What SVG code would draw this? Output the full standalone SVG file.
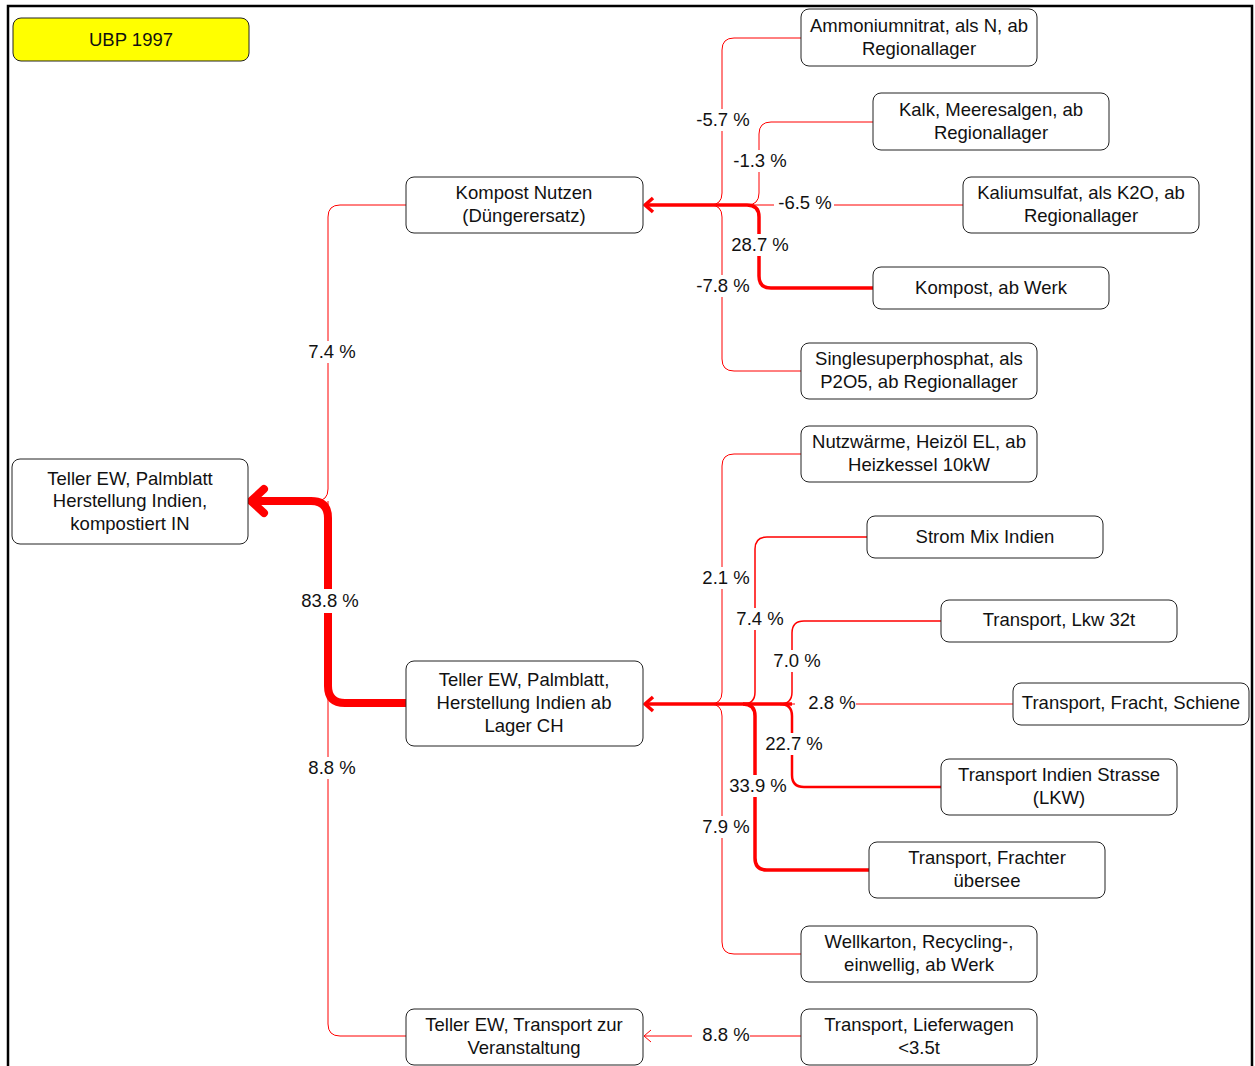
<svg xmlns="http://www.w3.org/2000/svg" width="1255" height="1066" viewBox="0 0 1255 1066">
  <style>
    .frame { fill: none; stroke: #000; stroke-width: 2.5; }
    .node rect { fill: #fff; stroke: #222; stroke-width: 1; }
    .node.title rect { fill: #ffff00; }
    text { font-family: "Liberation Sans", Arial, sans-serif; font-size: 18.5px; fill: #111; text-anchor: middle; dominant-baseline: central; transform: translateY(-1px); }
    .flow { fill: none; stroke: #ff0000; stroke-linecap: butt; stroke-linejoin: round; }
    .w1 { stroke-width: 1; }
    .w15 { stroke-width: 1.5; }
    .w25 { stroke-width: 2.5; }
    .w3 { stroke-width: 3.5; }
    .w8 { stroke-width: 8; stroke-linecap: round; }
    .lbl rect { fill: #fff; }
  </style>

  <!-- outer frame, open at the bottom -->
  <path class="frame" d="M8,1066 V6 H1252 V1066"/>

  <!-- connectors -->
  <g id="connectors">
    <!-- inputs to Kompost Nutzen -->
    <path class="flow w1" d="M801,38 H734 Q722,38 722,50 V193 Q722,205 710,205"/>
    <path class="flow w1" d="M801,371 H734 Q722,371 722,359 V217 Q722,205 710,205"/>
    <path class="flow w1" d="M873,122 H771 Q759,122 759,134 V193 Q759,205 747,205"/>
    <path class="flow w1" d="M963,205 H700"/>
    <path class="flow w3" d="M873,288 H771 Q759,288 759,276 V217 Q759,205 747,205 H646"/>
    <path class="flow w3" d="M653,198 L645,205 L653,212"/>

    <!-- inputs to Teller EW ab Lager CH -->
    <path class="flow w1" d="M801,454 H734 Q722,454 722,466 V692 Q722,704 710,704"/>
    <path class="flow w1" d="M801,954 H734 Q722,954 722,942 V716 Q722,704 710,704"/>
    <path class="flow w15" d="M867,537 H767 Q755,537 755,549 V692 Q755,704 743,704"/>
    <path class="flow w15" d="M941,621 H804 Q792,621 792,633 V692 Q792,704 780,704"/>
    <path class="flow w1" d="M1013,704 H780"/>
    <path class="flow w25" d="M941,787 H804 Q792,787 792,775 V716 Q792,704 780,704"/>
    <path class="flow w3" d="M869,870 H767 Q755,870 755,858 V716 Q755,704 743,704"/>
    <path class="flow w3" d="M792,704 H646"/>
    <path class="flow w3" d="M653,697 L645,704 L653,711"/>

    <!-- inputs to the main product -->
    <path class="flow w8" d="M409,703 H345 Q328,703 328,686 V518 Q328,501 311,501 H252"/>
    <path class="flow w8" d="M264,489 L251,501 L264,513"/>
    <path class="flow w1" d="M406,205 H340 Q328,205 328,217 V489 Q328,501 316,501"/>
    <path class="flow w1" d="M406,1036 H340 Q328,1036 328,1024 V501"/>

    <!-- input to Transport zur Veranstaltung -->
    <path class="flow w1" d="M801,1036 H644"/>
    <path class="flow w1" d="M651,1030 L644,1036 L651,1042"/>
  </g>

  <!-- flow labels -->
  <g id="labels">
    <g class="lbl"><rect x="693" y="109" width="60" height="22"/><text x="723" y="120">-5.7 %</text></g>
    <g class="lbl"><rect x="730" y="150" width="60" height="22"/><text x="760" y="161">-1.3 %</text></g>
    <g class="lbl"><rect x="774" y="192" width="60" height="22"/><text x="805" y="203">-6.5 %</text></g>
    <g class="lbl"><rect x="729" y="234" width="62" height="22"/><text x="760" y="245">28.7 %</text></g>
    <g class="lbl"><rect x="693" y="275" width="60" height="22"/><text x="723" y="286">-7.8 %</text></g>

    <g class="lbl"><rect x="700" y="567" width="52" height="22"/><text x="726" y="578">2.1 %</text></g>
    <g class="lbl"><rect x="734" y="608" width="52" height="22"/><text x="760" y="619">7.4 %</text></g>
    <g class="lbl"><rect x="771" y="650" width="52" height="22"/><text x="797" y="661">7.0 %</text></g>
    <g class="lbl"><rect x="795" y="692" width="61" height="22"/><text x="832" y="703">2.8 %</text></g>
    <g class="lbl"><rect x="763" y="733" width="62" height="22"/><text x="794" y="744">22.7 %</text></g>
    <g class="lbl"><rect x="727" y="775" width="62" height="22"/><text x="758" y="786">33.9 %</text></g>
    <g class="lbl"><rect x="700" y="816" width="52" height="22"/><text x="726" y="827">7.9 %</text></g>

    <g class="lbl"><rect x="306" y="341" width="52" height="22"/><text x="332" y="352">7.4 %</text></g>
    <g class="lbl"><rect x="299" y="589" width="62" height="24"/><text x="330" y="601">83.8 %</text></g>
    <g class="lbl"><rect x="306" y="757" width="52" height="22"/><text x="332" y="768">8.8 %</text></g>
    <g class="lbl"><rect x="692" y="1024" width="58" height="22"/><text x="726" y="1035">8.8 %</text></g>
  </g>

  <!-- nodes -->
  <g id="n-ubp" class="node title">
    <rect x="13" y="18" width="236" height="43" rx="8"/>
    <text x="131" y="40">UBP 1997</text>
  </g>
  <g id="n-ammoniumnitrat" class="node">
    <rect x="801" y="9" width="236" height="57" rx="8"/>
    <text x="919" y="26">Ammoniumnitrat, als N, ab</text>
    <text x="919" y="49">Regionallager</text>
  </g>
  <g id="n-kalk" class="node">
    <rect x="873" y="93" width="236" height="57" rx="8"/>
    <text x="991" y="110">Kalk, Meeresalgen, ab</text>
    <text x="991" y="133">Regionallager</text>
  </g>
  <g id="n-kaliumsulfat" class="node">
    <rect x="963" y="177" width="236" height="56" rx="8"/>
    <text x="1081" y="193">Kaliumsulfat, als K2O, ab</text>
    <text x="1081" y="216">Regionallager</text>
  </g>
  <g id="n-kompost-werk" class="node">
    <rect x="873" y="267" width="236" height="42" rx="8"/>
    <text x="991" y="288">Kompost, ab Werk</text>
  </g>
  <g id="n-superphosphat" class="node">
    <rect x="801" y="343" width="236" height="56" rx="8"/>
    <text x="919" y="359">Singlesuperphosphat, als</text>
    <text x="919" y="382">P2O5, ab Regionallager</text>
  </g>
  <g id="n-kompost-nutzen" class="node">
    <rect x="406" y="177" width="237" height="56" rx="8"/>
    <text x="524" y="193">Kompost Nutzen</text>
    <text x="524" y="216">(Düngerersatz)</text>
  </g>
  <g id="n-teller-kompostiert" class="node">
    <rect x="12" y="459" width="236" height="85" rx="8"/>
    <text x="130" y="479">Teller EW, Palmblatt</text>
    <text x="130" y="501">Herstellung Indien,</text>
    <text x="130" y="524">kompostiert IN</text>
  </g>
  <g id="n-nutzwaerme" class="node">
    <rect x="801" y="426" width="236" height="56" rx="8"/>
    <text x="919" y="442">Nutzwärme, Heizöl EL, ab</text>
    <text x="919" y="465">Heizkessel 10kW</text>
  </g>
  <g id="n-strom" class="node">
    <rect x="867" y="516" width="236" height="42" rx="8"/>
    <text x="985" y="537">Strom Mix Indien</text>
  </g>
  <g id="n-lkw32" class="node">
    <rect x="941" y="600" width="236" height="42" rx="8"/>
    <text x="1059" y="620">Transport, Lkw 32t</text>
  </g>
  <g id="n-schiene" class="node">
    <rect x="1013" y="683" width="236" height="42" rx="8"/>
    <text x="1131" y="703">Transport, Fracht, Schiene</text>
  </g>
  <g id="n-strasse" class="node">
    <rect x="941" y="759" width="236" height="56" rx="8"/>
    <text x="1059" y="775">Transport Indien Strasse</text>
    <text x="1059" y="798">(LKW)</text>
  </g>
  <g id="n-frachter" class="node">
    <rect x="869" y="842" width="236" height="56" rx="8"/>
    <text x="987" y="858">Transport, Frachter</text>
    <text x="987" y="881">übersee</text>
  </g>
  <g id="n-wellkarton" class="node">
    <rect x="801" y="926" width="236" height="56" rx="8"/>
    <text x="919" y="942">Wellkarton, Recycling-,</text>
    <text x="919" y="965">einwellig, ab Werk</text>
  </g>
  <g id="n-lieferwagen" class="node">
    <rect x="801" y="1009" width="236" height="56" rx="8"/>
    <text x="919" y="1025">Transport, Lieferwagen</text>
    <text x="919" y="1048">&lt;3.5t</text>
  </g>
  <g id="n-teller-lager" class="node">
    <rect x="406" y="661" width="237" height="85" rx="8"/>
    <text x="524" y="680">Teller EW, Palmblatt,</text>
    <text x="524" y="703">Herstellung Indien ab</text>
    <text x="524" y="726">Lager CH</text>
  </g>
  <g id="n-teller-transport" class="node">
    <rect x="406" y="1009" width="237" height="56" rx="8"/>
    <text x="524" y="1025">Teller EW, Transport zur</text>
    <text x="524" y="1048">Veranstaltung</text>
  </g>
</svg>
